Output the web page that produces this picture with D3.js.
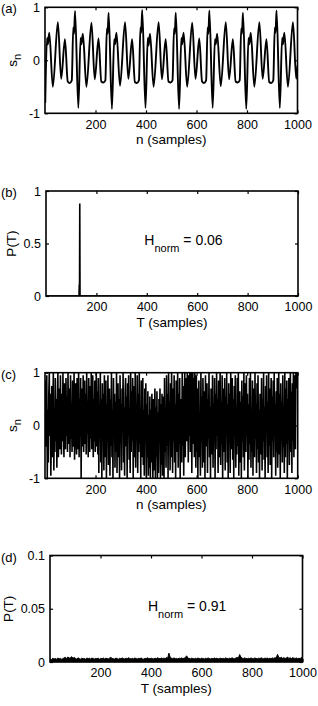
<!DOCTYPE html>
<html>
<head>
<meta charset="utf-8">
<script src="https://cdn.jsdelivr.net/npm/d3@7"></script>
<style>
  body { margin: 0; background: #fff; }
  text { font-family: "Liberation Sans", Arial, Helvetica, sans-serif; fill: #000; }
  .tick text { font-size: 12.5px; }
</style>
</head>
<body>
<svg id="chart" width="318" height="706"></svg>
<script>
// ---- data ----
const xTicks = [200, 400, 600, 800, 1000];

// (a) periodic signal, turning points
const aN = [1, 8, 11, 17, 31, 51, 64, 79, 90, 98, 106, 112, 115, 119,
  132, 141, 144, 150, 164, 184, 197, 212, 223, 231, 239, 245, 248, 252,
  265, 274, 277, 283, 297, 317, 330, 345, 356, 364, 372, 378, 381, 385,
  398, 407, 410, 416, 430, 450, 463, 478, 489, 497, 505, 511, 514, 518,
  531, 540, 543, 549, 563, 583, 596, 611, 622, 630, 638, 644, 647, 651,
  664, 673, 676, 682, 696, 716, 729, 744, 755, 763, 771, 777, 780, 784,
  797, 806, 809, 815, 829, 849, 862, 877, 888, 896, 904, 910, 913, 917,
  930, 939, 942, 948, 962, 982, 995, 1000];
const aS = [-0.8, 0.42, 0.3, 0.52, -0.5, 0.72, -0.35, 0.4, -0.4, -0.43, -0.38, 0.62, 0.5, 0.93,
  -0.9, 0.42, 0.3, 0.5, -0.5, 0.71, -0.36, 0.41, -0.4, -0.42, -0.38, 0.6, 0.5, 0.9,
  -0.92, 0.4, 0.3, 0.52, -0.48, 0.72, -0.35, 0.4, -0.41, -0.43, -0.38, 0.62, 0.52, 0.95,
  -0.9, 0.42, 0.28, 0.5, -0.5, 0.72, -0.36, 0.4, -0.4, -0.42, -0.38, 0.6, 0.5, 0.9,
  -0.92, 0.42, 0.3, 0.52, -0.5, 0.71, -0.35, 0.41, -0.4, -0.43, -0.38, 0.62, 0.5, 0.94,
  -0.9, 0.4, 0.3, 0.5, -0.49, 0.72, -0.36, 0.4, -0.4, -0.42, -0.38, 0.6, 0.5, 0.9,
  -0.92, 0.42, 0.3, 0.52, -0.5, 0.72, -0.35, 0.4, -0.41, -0.43, -0.38, 0.62, 0.52, 0.94,
  -0.9, 0.42, 0.3, 0.52, -0.5, 0.72, -0.35, -0.1];

// (b) period distribution of the periodic signal
const bT = [1, 131, 132, 133, 134, 135, 1000];
const bP = [0, 0, 0.11, 0, 0.88, 0, 0];
const bHnorm = "0.06";

// (c) noise signal, one value every noiseStep samples
const noiseStep = 2;
const cS = [0.85, -0.4, 0.2, 0.95, -1, 0.3, -0.7, 0.6, 1, -0.2, 0.6, -0.95, -0.3, 0.75, -0.6, 0.4, 1, -0.85, 0.1, -0.5,
  0.9, -0.3, 0.5, -0.8, 0.35, 1, -0.6, -0.2, 0.7, -0.45, 0.95, 0.2, -0.55, 0.6, -0.3, 1, -0.1, -0.6, 0.8, 0.3,
  -0.45, 0.9, -0.2, 0.55, -0.5, 1, 0.1, -0.35, 0.7, -0.6, 0.95, -0.25, 0.4, -0.5, 0.85, 0.15, -0.4, 1, -0.65, 0.3,
  0.8, -0.3, -0.55, 0.9, 0.2, -0.45, 1, -0.6, 0.5, -0.2, 0.9, -1, 0.35, 0.7, -0.4, 0.95, -0.5, 0.1, 0.85, -0.35,
  0.6, -0.55, 1, -0.15, 0.45, -0.6, 0.9, 0.3, -0.5, 0.75, -0.25, 1, -0.45, 0.2, 0.95, -0.6, 0.5, -0.3, 0.85, -0.5,
  0.3, 1, -0.4, 0.65, -0.55, 0.9, -0.9, 0.4, -0.2, 1, -0.7, 0.5, -1, 0.8, -0.3, 0.6, -0.85, 0.95, 0.1, -0.6,
  0.85, -1, 0.4, -0.3, 0.95, -0.75, 0.2, 0.7, -0.95, 0.5, -0.4, 1, -0.6, 0.3, -1, 0.9, -0.2, 0.6, -0.8, 0.45,
  -0.5, 1, -0.9, 0.25, 0.8, -0.6, 0.5, -1, 0.95, -0.3, 0.4, -0.85, 0.7, -0.1, 1, -0.7, 0.35, -0.95, 0.6, 0.9,
  -0.4, 0.55, -1, 0.8, -0.2, 0.95, -0.65, 0.3, -0.9, 1, -0.5, 0.65, -0.3, 0.9, -1, 0.2, 0.75, -0.6, 1, -0.8,
  0.4, -0.25, 0.95, -0.9, 0.6, -0.5, 1, -0.35, 0.2, -1, 0.85, -0.6, 0.5, 0.9, -0.75, 0.3, -0.95, 0.7, -0.15, 0.8,
  -1, 0.4, -0.6, 0.65, -0.95, 0.2, -0.8, 0.55, -1, 0.3, -0.7, 0.6, -0.4, -1, 0.5, -0.85, 0.1, 0.7, -1, 0.35,
  -0.6, 0.65, -1, 0.25, -0.9, 0.5, -0.3, 0.7, -1, 0.4, -0.75, 0.6, -0.95, 0.2, 0.55, -1, 0.9, -0.5, 0.3, -0.8,
  0.95, -0.4, 0.6, -1, 1, -0.2, 0.45, -0.85, 0.8, -0.6, 1, 0.1, -0.9, 0.7, -0.3, 0.95, -0.7, 0.4, -1, 0.85,
  -0.5, 0.3, 1, -0.8, 0.6, -0.35, 0.9, -1, 0.5, 0.2, -0.7, 1, -0.4, 0.75, -0.95, 0.4, 1, -0.6, 0.2, 0.9,
  -0.3, 1, 0.6, -0.7, 0.95, -0.2, 1, -0.5, 0.8, 1, -0.9, 0.45, 1, -0.35, 0.9, -0.6, 1, 0.3, -0.8, 0.95,
  -0.5, 0.7, -1, 0.4, 0.85, -0.6, 0.2, -0.95, 1, -0.3, 0.55, -0.8, 0.9, -0.1, -0.7, 0.65, -1, 0.95, -0.4, 0.3,
  0.8, -0.9, 0.5, -0.25, 1, -0.6, 0.35, -1, 0.7, 0.15, -0.55, 0.95, -0.8, 0.4, -0.3, 0.9, -1, 0.6, -0.45, 1,
  -0.2, 0.5, -0.9, 0.85, -0.6, 0.3, 1, -0.75, 0.45, -0.35, 0.95, -1, 0.2, 0.7, -0.5, 0.9, -0.85, 0.55, -0.1, 1,
  -0.7, 0.4, -1, 0.8, -0.3, 0.6, -0.9, 1, -0.45, 0.25, 0.9, -0.65, 0.5, -1, 0.75, -0.2, 0.95, -0.8, 0.35, -0.55,
  0.9, -0.4, 1, -0.95, 0.2, 0.65, -0.7, 0.45, -1, 0.85, -0.3, 0.55, -0.6, 1, -0.85, 0.3, 0.8, -0.5, 0.95, -0.2,
  0.6, -1, 0.4, -0.65, 0.9, -0.35, 1, -0.8, 0.15, -0.5, 0.85, -0.95, 0.5, 0.7, -0.6, 1, -0.25, 0.4, -0.9, 0.8,
  -0.45, 0.95, -0.7, 0.3, -1, 0.6, 0.2, -0.55, 0.9, -0.85, 0.5, -0.3, 1, -0.65, 0.35, -1, 0.75, -0.15, 0.95, -0.6,
  0.45, -0.9, 1, -0.4, 0.7, -0.75, 0.25, 0.9, -1, 0.55, -0.3, 0.85, -0.6, 1, -0.2, 0.4, -0.95, 0.65, -0.5, 0.9,
  -0.8, 0.3, 1, -0.55, 0.6, -1, 0.8, -0.25, 0.45, -0.7, 0.95, -0.4, 0.2, -0.9, 1, -0.6, 0.7, -0.35, 0.85, -1,
  0.5, -0.2, 0.9, -0.75, 0.35, 1, -0.5, 0.65, -0.9, 0.8, -0.3, 1, -0.6, 0.95, 0.4, -0.45, 1, 0.7, 0.9, 1];

// (d) period distribution of the noise, in permille, one value every flatStep
const flatStep = 5;
const dPermille = [3.0, 2.2, 3.5, 2.8, 3.2, 2.5, 3.8, 2.9, 3.4, 2.6, 3.1, 3.9, 4.4, 3.2, 4.8, 3.6, 4.1, 5.0, 3.5, 4.3,
  3.4, 2.8, 3.9, 3.2, 2.7, 3.6, 3.0, 3.3, 2.6, 3.8, 3.1, 3.5, 2.9, 3.7, 3.2, 2.8, 3.4, 3.0, 3.6, 2.7,
  3.3, 3.0, 3.8, 2.9, 3.5, 3.2, 2.8, 3.7, 4.3, 3.4, 3.1, 2.9, 3.6, 3.3, 2.7, 3.5, 3.0, 3.8, 3.2, 2.9,
  3.6, 3.1, 4.0, 3.3, 2.8, 3.4, 3.0, 3.7, 3.2, 2.9, 3.5, 3.1, 3.8, 3.0, 2.7, 3.4, 3.2, 3.9, 3.3, 3.0,
  3.5, 3.2, 2.9, 3.6, 3.1, 3.9, 3.4, 3.0, 3.7, 3.3, 3.6, 3.1, 4.2, 3.5, 8.3, 4.4, 3.6, 3.2, 3.8, 3.1,
  3.4, 2.9, 3.6, 3.3, 3.8, 3.2, 3.5, 4.1, 5.8, 3.7, 3.3, 3.0, 3.6, 3.2, 2.9, 3.5, 3.1, 3.7, 3.3, 3.0,
  3.6, 3.2, 2.8, 3.5, 3.1, 3.8, 3.3, 2.9, 3.4, 3.0, 3.7, 3.2, 3.5, 2.9, 3.3, 3.6, 3.0, 3.4, 3.1, 3.8,
  3.3, 3.0, 3.6, 3.2, 3.9, 3.4, 3.1, 3.7, 4.3, 3.5, 7.0, 4.6, 3.6, 3.2, 3.8, 3.3, 3.0, 3.5, 3.2, 3.7,
  3.4, 3.1, 3.8, 3.3, 3.0, 3.6, 3.2, 3.9, 3.4, 3.1, 3.6, 3.3, 3.7, 3.0, 3.5, 3.2, 3.8, 3.4, 4.1, 3.6,
  7.2, 4.2, 3.7, 4.4, 3.5, 4.0, 3.3, 3.8, 4.6, 3.4, 3.9, 3.2, 4.1, 3.6, 3.3, 3.8, 3.1, 3.5, 3.2, 4.4];
const dHnorm = "0.91";

// ---- layout ----
const panels = [
  {id: "a", left: 45, right: 297.5, top: 7.3, bottom: 113.3, yDomain: [-1, 1], yTicks: [-1, 0, 1],
   ylab: "s", ysub: "n", ylabX: 17, xlab: "n (samples)"},
  {id: "b", left: 46, right: 298, top: 191, bottom: 296, yDomain: [0, 1], yTicks: [0, 0.5, 1],
   ylab: "P(T)", ylabX: 16, xlab: "T (samples)", hnorm: bHnorm, hAt: [390, 0.49]},
  {id: "c", left: 45, right: 297.7, top: 372.7, bottom: 478.3, yDomain: [-1, 1], yTicks: [-1, 0, 1],
   ylab: "s", ysub: "n", ylabX: 17, xlab: "n (samples)"},
  {id: "d", left: 50, right: 302.5, top: 555.5, bottom: 662, yDomain: [0, 0.1], yTicks: [0, 0.05, 0.1],
   ylab: "P(T)", ylabX: 12.5, xlab: "T (samples)", hnorm: dHnorm, hAt: [388, 0.048]}
];

const svg = d3.select("#chart");

function drawPanel(p) {
  const x = d3.scaleLinear().domain([0, 1000]).range([p.left, p.right]);
  const y = d3.scaleLinear().domain(p.yDomain).range([p.bottom, p.top]);
  const g = svg.append("g").attr("class", "panel-" + p.id);

  g.append("clipPath").attr("id", "clip-" + p.id)
   .append("rect")
   .attr("x", p.left).attr("y", p.top)
   .attr("width", p.right - p.left).attr("height", p.bottom - p.top);

  const plot = g.append("g").attr("clip-path", `url(#clip-${p.id})`);
  const line = d3.line().x(d => x(d[0])).y(d => y(d[1]));

  if (p.id === "a") {
    plot.append("path")
        .datum(aN.map((n, i) => [n, aS[i]]))
        .attr("d", line.curve(d3.curveMonotoneX))
        .attr("fill", "none").attr("stroke", "#000").attr("stroke-width", 1.9);
  } else if (p.id === "b") {
    plot.append("path")
        .datum(bT.map((t, i) => [t, bP[i]]))
        .attr("d", line)
        .attr("fill", "none").attr("stroke", "#000").attr("stroke-width", 1.6);
  } else if (p.id === "c") {
    plot.append("path")
        .datum(cS.map((s, i) => [1 + i * noiseStep, s]))
        .attr("d", line)
        .attr("fill", "none").attr("stroke", "#000").attr("stroke-width", 1.6);
  } else {
    const pts = dPermille.map((v, i) => [1 + i * flatStep, v / 1000]);
    plot.append("path")
        .datum(pts)
        .attr("d", d3.area().x(d => x(d[0])).y0(y(0)).y1(d => y(d[1])))
        .attr("fill", "#000").attr("stroke", "#000").attr("stroke-width", 1);
  }

  // axes with inward ticks on all four sides
  const bottomAxis = g.append("g").attr("transform", `translate(0,${p.bottom})`)
    .call(d3.axisBottom(x).tickValues(xTicks).tickSize(-3).tickPadding(6.5).tickFormat(d3.format("d")));
  const topAxis = g.append("g").attr("transform", `translate(0,${p.top})`)
    .call(d3.axisTop(x).tickValues(xTicks).tickSize(-3).tickFormat(""));
  const leftAxis = g.append("g").attr("transform", `translate(${p.left},0)`)
    .call(d3.axisLeft(y).tickValues(p.yTicks).tickSize(-3).tickPadding(5).tickFormat(d => String(d)));
  const rightAxis = g.append("g").attr("transform", `translate(${p.right},0)`)
    .call(d3.axisRight(y).tickValues(p.yTicks).tickSize(-3).tickFormat(""));
  [bottomAxis, topAxis, leftAxis, rightAxis].forEach(a => {
    a.select(".domain").remove();
    a.selectAll(".tick line").attr("stroke-width", 1.2);
  });

  // box
  g.append("rect")
   .attr("x", p.left).attr("y", p.top)
   .attr("width", p.right - p.left).attr("height", p.bottom - p.top)
   .attr("fill", "none").attr("stroke", "#000").attr("stroke-width", 1.6);

  // panel letter
  g.append("text").attr("x", 1).attr("y", p.top + 6)
   .style("font-size", "13px").text(`(${p.id})`);

  // x label
  g.append("text")
   .attr("x", (p.left + p.right) / 2).attr("y", p.bottom + 30.5)
   .attr("text-anchor", "middle").style("font-size", "13.5px")
   .text(p.xlab);

  // y label (rotated)
  const yl = g.append("text")
   .attr("transform", `translate(${p.ylabX},${(p.top + p.bottom) / 2}) rotate(-90)`)
   .attr("text-anchor", "middle").style("font-size", "13.5px");
  yl.append("tspan").text(p.ylab);
  if (p.ysub) yl.append("tspan").attr("dy", 4).style("font-size", "11px").text(p.ysub);

  // entropy annotation
  if (p.hnorm) {
    const t = g.append("text")
      .attr("x", x(p.hAt[0])).attr("y", y(p.hAt[1]))
      .style("font-size", "14px");
    t.append("tspan").text("H");
    t.append("tspan").attr("dy", 7).style("font-size", "11px").text("norm");
    t.append("tspan").attr("dy", -7).text(" = " + p.hnorm);
  }
}

panels.forEach(drawPanel);
</script>
</body>
</html>
